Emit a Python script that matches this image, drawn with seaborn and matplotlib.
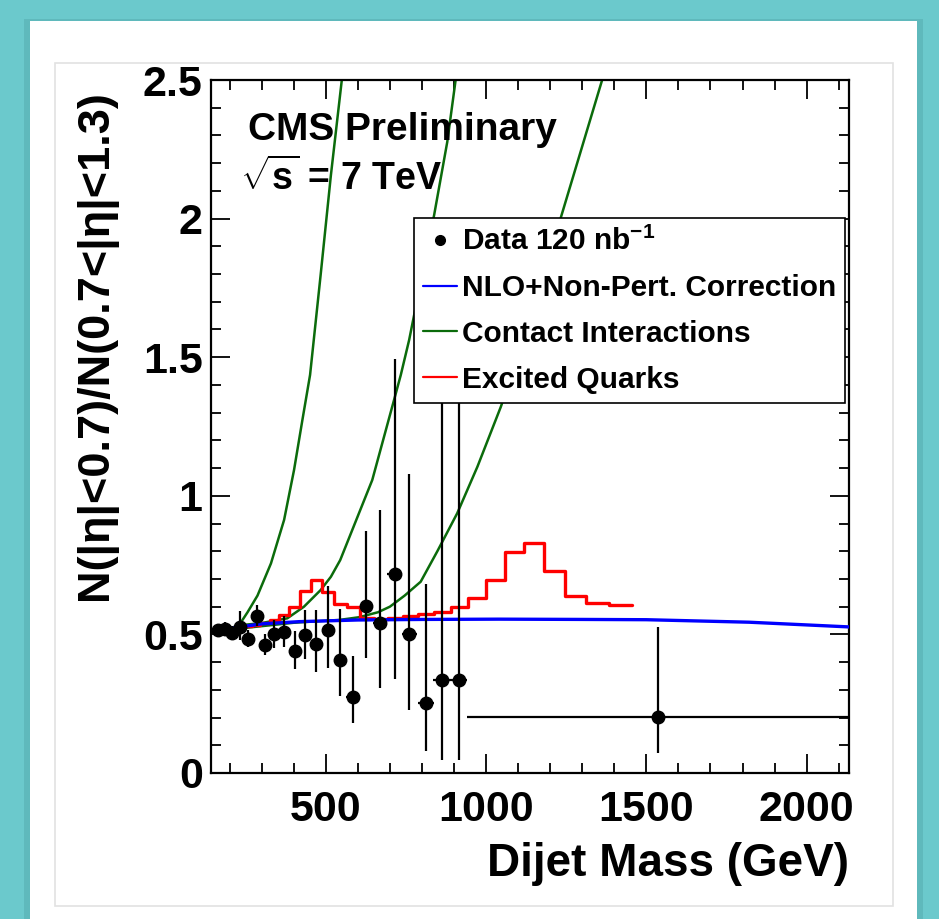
import matplotlib
matplotlib.use('Agg')
import matplotlib.pyplot as plt
from matplotlib.patches import Rectangle
from matplotlib.lines import Line2D
from matplotlib.ticker import MultipleLocator, FixedLocator, FixedFormatter
import seaborn as sns

# data points (dijet mass in GeV, ratio, asymmetric errors)
mass = [164, 185, 208, 232, 258, 284, 311, 338, 370, 403, 435, 470, 507,
        544, 584, 627, 669, 715, 761, 812, 862, 914, 1535]
ratio = [0.516, 0.518, 0.504, 0.528, 0.485, 0.566, 0.462, 0.502, 0.509, 0.441,
         0.498, 0.464, 0.515, 0.408, 0.275, 0.604, 0.540, 0.717, 0.501, 0.254,
         0.335, 0.335, 0.202]
err_lo = [0.012, 0.020, 0.025, 0.050, 0.030, 0.035, 0.035, 0.050, 0.055, 0.065,
          0.085, 0.100, 0.135, 0.130, 0.096, 0.190, 0.234, 0.379, 0.274, 0.174,
          0.288, 0.288, 0.131]
err_hi = [0.012, 0.025, 0.028, 0.055, 0.030, 0.040, 0.040, 0.050, 0.058, 0.070,
          0.090, 0.123, 0.160, 0.184, 0.147, 0.270, 0.410, 0.777, 0.578, 0.427,
          1.600, 1.600, 0.326]
half_bin = [10, 10.5, 11.5, 12, 13, 13, 14.5, 14.5, 16, 16.5, 17, 18, 18.5,
            19.5, 20.5, 21.5, 22, 23.5, 24, 25, 26, 27, 594]

# NLO + non-perturbative correction
nlo_m = [156, 208, 300, 417, 600, 800, 1040, 1300, 1500, 1820, 2132]
nlo_r = [0.512, 0.523, 0.538, 0.546, 0.552, 0.554, 0.555, 0.554, 0.553, 0.544, 0.527]

# contact interaction curves
ci1_m = [156, 200, 230, 256, 287, 329, 370, 401, 427, 451, 484, 516, 550]
ci1_r = [0.512, 0.520, 0.534, 0.580, 0.640, 0.756, 0.913, 1.093, 1.273, 1.436,
         1.797, 2.157, 2.500]
ci2_m = [156, 250, 300, 380, 432, 484, 516, 545, 645, 713, 734, 760, 838, 879, 905]
ci2_r = [0.512, 0.535, 0.541, 0.558, 0.600, 0.660, 0.708, 0.768, 1.057, 1.346,
         1.436, 1.562, 2.013, 2.277, 2.500]
ci3_m = [156, 400, 480, 541, 604, 663, 700, 746, 796, 848, 910, 973, 1046,
         1140, 1227, 1362]
ci3_r = [0.512, 0.542, 0.548, 0.552, 0.562, 0.580, 0.600, 0.640, 0.690, 0.800,
         0.937, 1.105, 1.321, 1.640, 1.980, 2.500]

# excited quarks histogram
q_edges = [156, 176, 197, 220, 244, 270, 296, 325, 354, 386, 419, 453, 489, 526,
           565, 606, 649, 693, 740, 788, 838, 890, 944, 1000, 1058, 1118, 1181,
           1246, 1313, 1383, 1455]
q_vals = [0.514, 0.518, 0.522, 0.526, 0.530, 0.535, 0.540, 0.552, 0.570, 0.600,
          0.657, 0.696, 0.652, 0.610, 0.598, 0.560, 0.556, 0.558, 0.565, 0.572,
          0.581, 0.598, 0.630, 0.696, 0.798, 0.829, 0.730, 0.639, 0.614, 0.606]

x_ticks = [500, 1000, 1500, 2000]
y_ticks = [0, 0.5, 1, 1.5, 2, 2.5]
y_tick_labels = ['0', '0.5', '1', '1.5', '2', '2.5']

sns.set_theme(style='ticks')
plt.rcParams['font.family'] = ['Liberation Sans', 'DejaVu Sans']
plt.rcParams['font.weight'] = 'bold'
plt.rcParams['text.color'] = 'black'
plt.rcParams['axes.labelcolor'] = 'black'
plt.rcParams['xtick.color'] = 'black'
plt.rcParams['ytick.color'] = 'black'
plt.rcParams['mathtext.fontset'] = 'custom'
plt.rcParams['mathtext.rm'] = 'Liberation Sans:bold'
plt.rcParams['mathtext.it'] = 'Liberation Sans:bold'
plt.rcParams['mathtext.bf'] = 'Liberation Sans:bold'

W, H = 939, 919
fig = plt.figure(figsize=(W / 100, H / 100), dpi=100)
fig.patch.set_facecolor('#6bc9cc')

# slide panel
fig.add_artist(Rectangle((24 / W, 0), 899 / W, 900 / H, transform=fig.transFigure,
                         fc='#3d8a8e', alpha=0.25, lw=0, zorder=-3))
fig.add_artist(Rectangle((30 / W, 0), 887 / W, 898 / H, transform=fig.transFigure,
                         fc='white', lw=0, zorder=-2))
fig.add_artist(Rectangle((55 / W, 13 / H), 838 / W, 843 / H, transform=fig.transFigure,
                         fill=False, ec='#e2e2e2', lw=1.2, zorder=-1))

ax = fig.add_axes([211 / W, 1 - 773 / H, 638 / W, 693 / H])
ax.set_facecolor('white')

green = '#0b6b0b'
for cm, cr in [(ci1_m, ci1_r), (ci2_m, ci2_r), (ci3_m, ci3_r)]:
    sns.lineplot(x=cm, y=cr, ax=ax, color=green, lw=1.8, sort=False,
                 estimator=None, zorder=2)

sns.lineplot(x=q_edges, y=q_vals + [q_vals[-1]], ax=ax, color='#ff0000', lw=2.4,
             drawstyle='steps-post', sort=False, estimator=None, zorder=3)

sns.lineplot(x=nlo_m, y=nlo_r, ax=ax, color='#0000ff', lw=2.4, sort=False,
             estimator=None, zorder=4)

ax.errorbar(mass, ratio, yerr=[err_lo, err_hi], xerr=half_bin, fmt='o',
            color='black', ms=9, elinewidth=1.6, capsize=0, zorder=5)

ax.set_xlim(142, 2132)
ax.set_ylim(0, 2.5)

ax.xaxis.set_major_locator(FixedLocator(x_ticks))
ax.xaxis.set_minor_locator(MultipleLocator(100))
ax.yaxis.set_major_locator(FixedLocator(y_ticks))
ax.yaxis.set_major_formatter(FixedFormatter(y_tick_labels))
ax.yaxis.set_minor_locator(MultipleLocator(0.1))
ax.tick_params(which='both', direction='in', top=True, right=True, width=1.3,
               color='black')
ax.tick_params(which='major', length=14, labelsize=31, labelcolor='black')
ax.tick_params(which='minor', length=7)
ax.tick_params(axis='x', which='major', pad=12)
ax.tick_params(axis='y', which='major', pad=6)
for s in ax.spines.values():
    s.set_linewidth(1.6)
    s.set_color('black')

ax.set_xlabel('Dijet Mass (GeV)', fontsize=33, fontweight='bold', loc='right')
ax.xaxis.set_label_coords(1.0, -0.10)
ax.xaxis.label.set_va('top')
ax.set_ylabel('N(|η|<0.7)/N(0.7<|η|<1.3)', fontsize=32.5, fontweight='bold', loc='top')
ax.yaxis.set_label_coords(-0.148, 0.986)

ax.text(0.058, 0.913, 'CMS Preliminary', transform=ax.transAxes, fontsize=28,
        fontweight='bold', ha='left', va='baseline')
ax.text(0.045, 0.841, r'$\sqrt{s}$ = 7 TeV', transform=ax.transAxes, fontsize=27,
        fontweight='bold', ha='left', va='baseline')

handles = [
    Line2D([], [], ls='none', marker='o', color='black', ms=7),
    Line2D([], [], color='#0000ff', lw=1.6),
    Line2D([], [], color=green, lw=1.6),
    Line2D([], [], color='#ff0000', lw=1.6),
]
labels = ['Data 120 nb$^{-1}$', 'NLO+Non-Pert. Correction',
          'Contact Interactions', 'Excited Quarks']
leg = ax.legend(handles, labels, loc='upper left', bbox_to_anchor=(0.318, 0.801),
                borderaxespad=0, fontsize=21.5, frameon=True, fancybox=False,
                framealpha=1, edgecolor='black', handlelength=1.15,
                handletextpad=0.15, borderpad=0.3, labelspacing=0.6)
leg.get_frame().set_linewidth(1.2)
leg.set_zorder(10)
for t in leg.get_texts():
    t.set_fontweight('bold')
    t.set_color('black')

fig.savefig('out.png', dpi=100, facecolor=fig.get_facecolor())
